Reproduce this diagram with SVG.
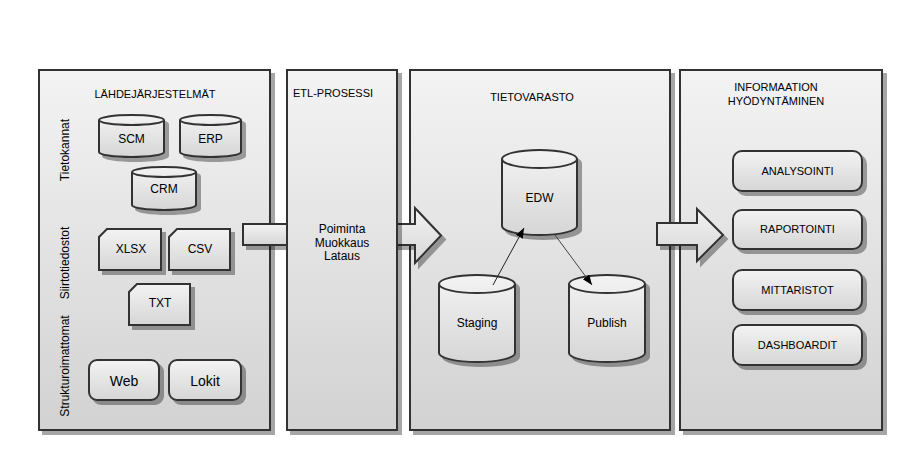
<svg xmlns="http://www.w3.org/2000/svg" width="902" height="461" viewBox="0 0 902 461">
<defs>
<linearGradient id="gp" x1="0" y1="0" x2="0" y2="1"><stop offset="0" stop-color="#f3f3f3"/><stop offset="1" stop-color="#d2d2d2"/></linearGradient>
<linearGradient id="gn" x1="0" y1="0" x2="0" y2="1"><stop offset="0" stop-color="#f3f3f3"/><stop offset="1" stop-color="#d6d6d6"/></linearGradient>
<filter id="sh" x="-10%" y="-10%" width="130%" height="130%">
<feOffset in="SourceAlpha" dx="4" dy="4" result="o"/>
<feFlood flood-color="#000" flood-opacity="0.35"/>
<feComposite in2="o" operator="in" result="s"/>
<feMerge><feMergeNode in="s"/><feMergeNode in="SourceGraphic"/></feMerge>
</filter>
<marker id="ah" markerUnits="userSpaceOnUse" markerWidth="12" markerHeight="10" refX="10" refY="4" orient="auto"><path d="M0,0 L10,4 L0,8 Z" fill="#000"/></marker>
</defs>
<style>
.panel{fill:url(#gp);stroke:#333;stroke-width:2;filter:url(#sh)}
.node{fill:url(#gn);stroke:#333;stroke-width:2;filter:url(#sh)}
.edge{fill:none;stroke:#333;stroke-width:2}
.big{fill:url(#gn);stroke:#333;stroke-width:2;filter:url(#sh)}
text{font-family:"Liberation Sans",Arial,sans-serif;fill:#000}
.t11{font-size:11px}
.t12{font-size:12px}
.t14{font-size:14px}
.c{text-anchor:middle}
.con{fill:none;stroke:#222;stroke-width:1;marker-end:url(#ah)}
</style>

<g id="panel-lahde">
<rect class="panel" x="39" y="70" width="231" height="360"/>
<text class="t11 c" x="155" y="98">LÄHDEJÄRJESTELMÄT</text>
<text class="t12 c" x="68.5" y="150" transform="rotate(-90 68.5 150)">Tietokannat</text>
<text class="t12 c" x="68.5" y="263" transform="rotate(-90 68.5 263)">Siirtotiedostot</text>
<text class="t12 c" x="68.5" y="366" transform="rotate(-90 68.5 366)">Strukturoimattomat</text>
</g>

<g id="scm">
<path class="node" d="M99,120 V152 A32.5,5 0 0 0 164,152 V120 A32.5,5 0 0 0 99,120 Z"/>
<path class="edge" d="M99,120 A32.5,5 0 0 0 164,120"/>
<text class="t12 c" x="131.5" y="143">SCM</text>
</g>
<g id="erp">
<path class="node" d="M180,120 V152 A30.5,5 0 0 0 241,152 V120 A30.5,5 0 0 0 180,120 Z"/>
<path class="edge" d="M180,120 A30.5,5 0 0 0 241,120"/>
<text class="t12 c" x="210.5" y="143">ERP</text>
</g>
<g id="crm">
<path class="node" d="M132,172 V205 A32,5 0 0 0 196,205 V172 A32,5 0 0 0 132,172 Z"/>
<path class="edge" d="M132,172 A32,5 0 0 0 196,172"/>
<text class="t12 c" x="164" y="193">CRM</text>
</g>
<g id="xlsx">
<path class="node" d="M107,229 H161 V270 H99 V237 Z"/>
<text class="t12 c" x="131" y="253">XLSX</text>
</g>
<g id="csv">
<path class="node" d="M177,229 H230 V270 H169 V237 Z"/>
<text class="t12 c" x="200" y="253">CSV</text>
</g>
<g id="txt">
<path class="node" d="M137,284 H190 V325 H129 V292 Z"/>
<text class="t12 c" x="160" y="307">TXT</text>
</g>
<g id="web">
<rect class="node" x="89" y="360" width="70" height="40" rx="8"/>
<text class="t14 c" x="124" y="386">Web</text>
</g>
<g id="lokit">
<rect class="node" x="169" y="360" width="72" height="40" rx="8"/>
<text class="t14 c" x="205" y="386">Lokit</text>
</g>

<g id="arrow-1">
<rect class="big" x="243" y="224" width="50" height="21"/>
</g>

<g id="panel-tietovarasto">
<rect class="panel" x="410" y="70" width="260" height="360"/>
<text class="t11 c" x="532" y="101">TIETOVARASTO</text>
</g>

<g id="panel-info">
<rect class="panel" x="680" y="70" width="202" height="360"/>
<text class="t11 c" x="776" y="91">INFORMAATION</text>
<text class="t11 c" x="776" y="105">HYÖDYNTÄMINEN</text>
</g>

<g id="arrow-2">
<path class="big" d="M392,224 H415 V208 L441,235.5 L415,263 V245 H392 Z"/>
</g>
<g id="arrow-3">
<path class="big" d="M657,223 H697 V209 L723,235 L697,261 V245 H657 Z"/>
</g>

<g id="panel-etl">
<rect class="panel" x="287" y="70" width="110" height="360"/>
<text class="t11" x="293" y="97">ETL-PROSESSI</text>
<text class="t12 c" x="342" y="233">Poiminta</text>
<text class="t12 c" x="342" y="246.5">Muokkaus</text>
<text class="t12 c" x="342" y="260">Lataus</text>
</g>

<g id="edw">
<path class="node" d="M502,159 V226 A37.5,9 0 0 0 577,226 V159 A37.5,9 0 0 0 502,159 Z"/>
<path class="edge" d="M502,159 A37.5,9 0 0 0 577,159"/>
<text class="t12 c" x="539.5" y="202">EDW</text>
</g>
<g id="staging">
<path class="node" d="M439,284 V353 A38,9 0 0 0 515,353 V284 A38,9 0 0 0 439,284 Z"/>
<path class="edge" d="M439,284 A38,9 0 0 0 515,284"/>
<text class="t12 c" x="477" y="327">Staging</text>
</g>
<g id="publish">
<path class="node" d="M569,284 V353 A38,9 0 0 0 645,353 V284 A38,9 0 0 0 569,284 Z"/>
<path class="edge" d="M569,284 A38,9 0 0 0 645,284"/>
<text class="t12 c" x="607" y="327">Publish</text>
</g>

<g id="analysointi">
<rect class="node" x="733" y="151" width="129" height="40" rx="9"/>
<text class="t11 c" x="797.5" y="175">ANALYSOINTI</text>
</g>
<g id="raportointi">
<rect class="node" x="733" y="210" width="129" height="39" rx="9"/>
<text class="t11 c" x="797.5" y="233">RAPORTOINTI</text>
</g>
<g id="mittaristot">
<rect class="node" x="733" y="270" width="129" height="40" rx="9"/>
<text class="t11 c" x="797.5" y="294">MITTARISTOT</text>
</g>
<g id="dashboardit">
<rect class="node" x="733" y="325" width="129" height="40" rx="9"/>
<text class="t11 c" x="797.5" y="349">DASHBOARDIT</text>
</g>

<g id="connectors">
<path class="con" d="M493,285 L524,228"/>
<path class="con" d="M555,235 L592,285" style="stroke:#444"/>
</g>
</svg>
